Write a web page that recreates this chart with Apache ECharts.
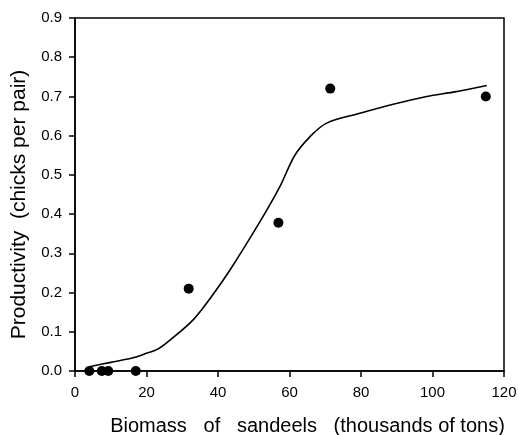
<!DOCTYPE html>
<html>
<head>
<meta charset="utf-8">
<script src="https://cdn.jsdelivr.net/npm/echarts@6/dist/echarts.min.js"></script>
<style>html,body{margin:0;padding:0;background:#fff}#c{width:518px;height:435px}</style>
</head>
<body>
<div id="c"></div>
<script>
var obsX = [4, 7.5, 9.3, 17, 31.8, 56.9, 71.4, 114.9];
var obsY = [0, 0, 0, 0, 0.21, 0.378, 0.72, 0.70];
var fitX = [4, 10, 16, 20, 23, 26.6, 33.1, 38.2, 43.4, 51.7, 57.3, 61.5, 65.7, 70.4, 79.7, 89, 98.4, 105.8, 115.2];
var fitY = [0.011, 0.022, 0.033, 0.045, 0.055, 0.079, 0.131, 0.19, 0.258, 0.38, 0.47, 0.55, 0.597, 0.632, 0.657, 0.68, 0.70, 0.711, 0.728];
var xTitle = 'Biomass   of   sandeels   (thousands of tons)';
var yTitle = 'Productivity  (chicks per pair)';

var chart = echarts.init(document.getElementById('c'), null, {renderer: 'canvas'});
var font = 'Liberation Sans, Arial, sans-serif';
chart.setOption({
  animation: false,
  backgroundColor: '#fff',
  grid: {left: 75, right: 14, top: 18, bottom: 64, containLabel: false, outerBoundsMode: 'none',
         show: true, borderColor: '#000', borderWidth: 1.5, backgroundColor: 'transparent'},
  xAxis: {
    type: 'value', min: 0, max: 120, interval: 20,
    name: xTitle, nameLocation: 'middle', nameGap: 45,
    nameTextStyle: {fontFamily: font, fontSize: 20, color: '#000', padding: [0, 0, 0, 36]},
    axisLine: {show: true, onZero: false, lineStyle: {color: '#000', width: 1.5}},
    axisTick: {show: true, length: 6, lineStyle: {color: '#000', width: 1.5}},
    axisLabel: {fontFamily: font, fontSize: 15, color: '#000', margin: 14},
    splitLine: {show: false}
  },
  yAxis: {
    type: 'value', min: 0, max: 0.9, interval: 0.1,
    name: yTitle, nameLocation: 'middle', nameGap: 45, nameRotate: 90,
    nameTextStyle: {fontFamily: font, fontSize: 21, color: '#000', padding: [0, 20, 0, 0]},
    axisLine: {show: true, onZero: false, lineStyle: {color: '#000', width: 1.5}},
    axisTick: {show: true, length: 6, lineStyle: {color: '#000', width: 1.5}},
    axisLabel: {fontFamily: font, fontSize: 15, color: '#000', margin: 13, formatter: function(v){return v.toFixed(1);}},
    splitLine: {show: false}
  },
  series: [
    {type: 'line', smooth: 0.35, showSymbol: false, symbol: 'none',
     lineStyle: {color: '#000', width: 1.6},
     data: fitX.map(function(x, i){return [x, fitY[i]];}), z: 2},
    {type: 'scatter', symbol: 'circle', symbolSize: 10,
     itemStyle: {color: '#000', opacity: 1},
     data: obsX.map(function(x, i){return [x, obsY[i]];}), z: 3}
  ]
});
</script>
</body>
</html>
